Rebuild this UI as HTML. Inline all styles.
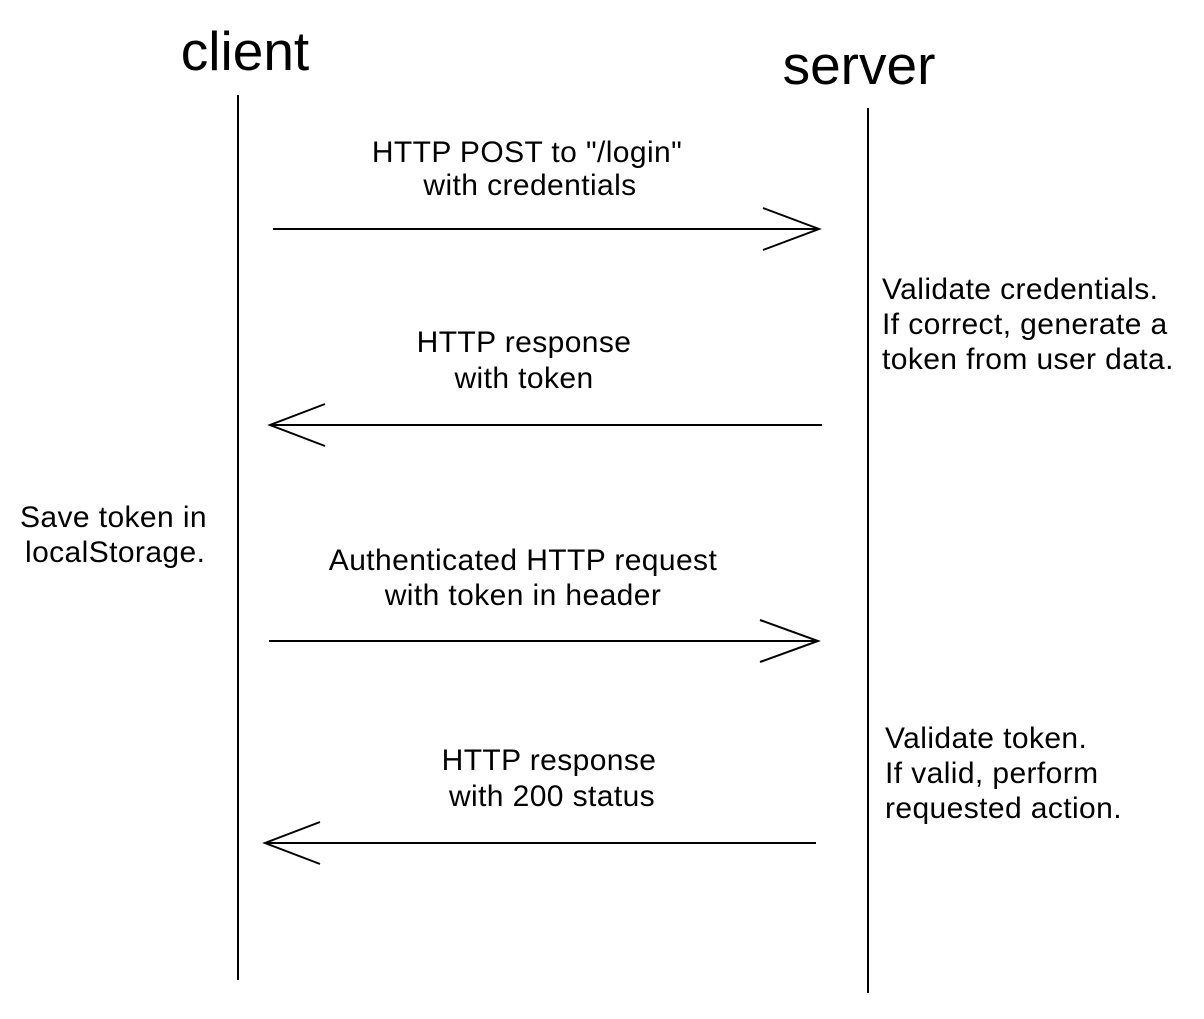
<!DOCTYPE html>
<html><head><meta charset="utf-8"><style>
html,body{margin:0;padding:0;background:#fff;}
svg text{font-family:"Liberation Sans",Arial,sans-serif;fill:#000;}
</style></head><body>
<svg width="1204" height="1014" viewBox="0 0 1204 1014" xmlns="http://www.w3.org/2000/svg">
<g stroke="#000" stroke-width="2" fill="none">
<line x1="238" y1="95" x2="238" y2="980"/>
<line x1="868" y1="108" x2="868" y2="993"/>
<line x1="273" y1="229" x2="819" y2="229"/>
<polyline points="763,208 819,229 763,250"/>
<line x1="822" y1="425" x2="270" y2="425"/>
<polyline points="325,404 270,425 325,446"/>
<line x1="269" y1="641" x2="818" y2="641"/>
<polyline points="760,620 818,641 760,662"/>
<line x1="816" y1="843" x2="265" y2="843"/>
<polyline points="320,822 265,843 320,864"/>
</g>
<text x="245" y="70" font-size="55" text-anchor="middle">client</text>
<text x="859" y="84" font-size="55" text-anchor="middle">server</text>
<g font-size="30" letter-spacing="0.4" text-anchor="middle">
<text x="527" y="162">HTTP POST to "/login"</text>
<text x="530" y="195">with credentials</text>
<text x="524" y="352">HTTP response</text>
<text x="524" y="388">with token</text>
<text x="523" y="570">Authenticated HTTP request</text>
<text x="523" y="605">with token in header</text>
<text x="549" y="770">HTTP response</text>
<text x="552" y="806">with 200 status</text>
</g>
<g font-size="30" letter-spacing="0.4">
<text x="882" y="299">Validate credentials.</text>
<text x="882" y="334">If correct, generate a</text>
<text x="882" y="369">token from user data.</text>
<text x="20" y="527">Save token in</text>
<text x="25" y="562">localStorage.</text>
<text x="885" y="748">Validate token.</text>
<text x="885" y="783">If valid, perform</text>
<text x="885" y="818">requested action.</text>
</g>
</svg>
</body></html>
